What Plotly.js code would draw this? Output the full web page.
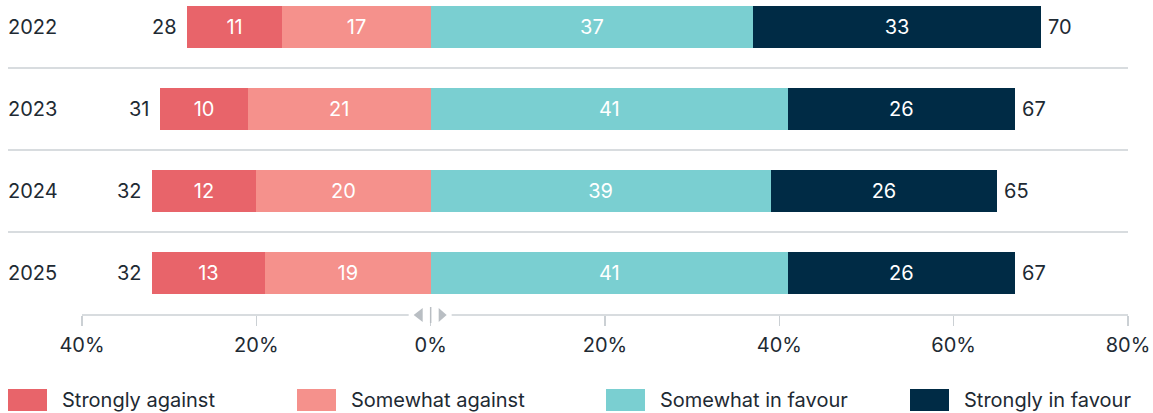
<!DOCTYPE html>
<html>
<head>
<meta charset="utf-8">
<script src="https://cdn.plot.ly/plotly-3.0.1.min.js"></script>
<style>html,body{margin:0;padding:0;background:#fff;}#chart{width:1153px;height:413px;}</style>
</head>
<body>
<div id="chart"></div>
<script>
const years = ["2022", "2023", "2024", "2025"];
const stronglyAgainst = [11, 10, 12, 13];
const somewhatAgainst = [17, 21, 20, 19];
const somewhatFavour = [37, 41, 39, 41];
const stronglyFavour = [33, 26, 26, 26];
const totalAgainst = [28, 31, 32, 32];
const totalFavour = [70, 67, 65, 67];
const tickValues = [-40, -20, 0, 20, 40, 60, 80];
const tickLabels = ["40%", "20%", "0%", "20%", "40%", "60%", "80%"];
const seriesNames = ["Strongly against", "Somewhat against", "Somewhat in favour", "Strongly in favour"];
const seriesColors = ["#e8646a", "#f5918c", "#7acfd1", "#002b45"];

const FONT = "Inter, 'Noto Sans', sans-serif";
const TXT = "#1e2a33";
const GRAY = "#cbd0d4";
const FS = 20;
const L = 82, R = 1128, AXY = 315;
const W = R - L;
const yIdx = years.map((_, i) => i);
const px = p => (p - L) / W;
const py = p => (AXY - p) / AXY;

function barTrace(vals, sign, name, color) {
  return {
    type: "bar", orientation: "h", name: name,
    y: yIdx, x: vals.map(v => sign * v),
    text: vals.map(v => String(v)),
    textposition: "inside", insidetextanchor: "middle",
    textfont: {color: "#ffffff", size: FS, family: FONT},
    marker: {color: color, line: {width: 0}},
    width: 0.51, hoverinfo: "skip", showlegend: false
  };
}

const data = [
  barTrace(somewhatAgainst, -1, seriesNames[1], seriesColors[1]),
  barTrace(stronglyAgainst, -1, seriesNames[0], seriesColors[0]),
  barTrace(somewhatFavour, 1, seriesNames[2], seriesColors[2]),
  barTrace(stronglyFavour, 1, seriesNames[3], seriesColors[3])
];

const annotations = [];
const shapes = [];
years.forEach((y, i) => {
  annotations.push({xref: "paper", yref: "y", x: px(6), y: i, text: y, showarrow: false,
    xanchor: "left", yanchor: "middle", font: {size: FS, color: TXT, family: FONT}});
  annotations.push({xref: "x", yref: "y", x: -totalAgainst[i], y: i, text: String(totalAgainst[i]), showarrow: false,
    xanchor: "right", yanchor: "middle", xshift: -8, font: {size: FS, color: TXT, family: FONT}});
  annotations.push({xref: "x", yref: "y", x: totalFavour[i], y: i, text: String(totalFavour[i]), showarrow: false,
    xanchor: "left", yanchor: "middle", xshift: 5, font: {size: FS, color: TXT, family: FONT}});
  if (i < years.length - 1) {
    shapes.push({type: "line", xref: "paper", yref: "y", x0: px(8), x1: 1, y0: i + 0.5, y1: i + 0.5,
      line: {color: GRAY, width: 1.5}, layer: "below"});
  }
});

// axis line with central gap and arrow glyph
shapes.push({type: "line", xref: "x", yref: "paper", x0: -40, x1: 80, y0: 0, y1: 0, line: {color: GRAY, width: 1.5}});
shapes.push({type: "rect", xref: "x", yref: "paper", xsizemode: "pixel", ysizemode: "pixel", xanchor: 0, yanchor: 0,
  x0: -22, x1: 21, y0: -4, y1: 4, fillcolor: "#ffffff", line: {width: 0}});
shapes.push({type: "path", xref: "x", yref: "paper", xsizemode: "pixel", ysizemode: "pixel", xanchor: 0, yanchor: 0,
  path: "M -8,-7 L -8,7 L -17,0 Z", fillcolor: "#b9bec3", line: {width: 0}});
shapes.push({type: "path", xref: "x", yref: "paper", xsizemode: "pixel", ysizemode: "pixel", xanchor: 0, yanchor: 0,
  path: "M 8,-7 L 8,7 L 16,0 Z", fillcolor: "#b9bec3", line: {width: 0}});
shapes.push({type: "line", xref: "x", yref: "paper", xsizemode: "pixel", ysizemode: "pixel", xanchor: 0, yanchor: 0,
  x0: 0, x1: 0, y0: -8, y1: 8, line: {color: "#b9bec3", width: 1.5}});

// legend
const legX = [8, 297, 606, 910];
seriesNames.forEach((n, i) => {
  shapes.push({type: "rect", xref: "paper", yref: "paper", x0: px(legX[i]), x1: px(legX[i] + 39), y0: py(389), y1: py(411),
    fillcolor: seriesColors[i], line: {width: 0}});
  annotations.push({xref: "paper", yref: "paper", x: px(legX[i] + 52), y: py(400), text: n, showarrow: false,
    xanchor: "left", yanchor: "middle", font: {size: FS, color: TXT, family: FONT}});
});

const layout = {
  width: 1153, height: 413,
  margin: {l: L, r: 1153 - R, t: 0, b: 413 - AXY, pad: 0},
  paper_bgcolor: "#ffffff", plot_bgcolor: "#ffffff",
  barmode: "relative", bargap: 0,
  showlegend: false,
  font: {family: FONT, color: TXT, size: FS},
  xaxis: {range: [-40, 80], tickvals: tickValues, ticktext: tickLabels, showgrid: false, zeroline: false,
    showline: false, ticks: "outside", ticklen: 10, tickwidth: 1.5, tickcolor: GRAY, ticklabelstandoff: 2,
    tickfont: {size: FS, color: TXT, family: FONT}, fixedrange: true},
  yaxis: {range: [3 + 42 / 82, -27 / 82], showticklabels: false, showgrid: false, zeroline: false,
    showline: false, ticks: "", fixedrange: true},
  shapes: shapes, annotations: annotations
};

Plotly.newPlot("chart", data, layout, {displayModeBar: false, staticPlot: true});
</script>
</body>
</html>
